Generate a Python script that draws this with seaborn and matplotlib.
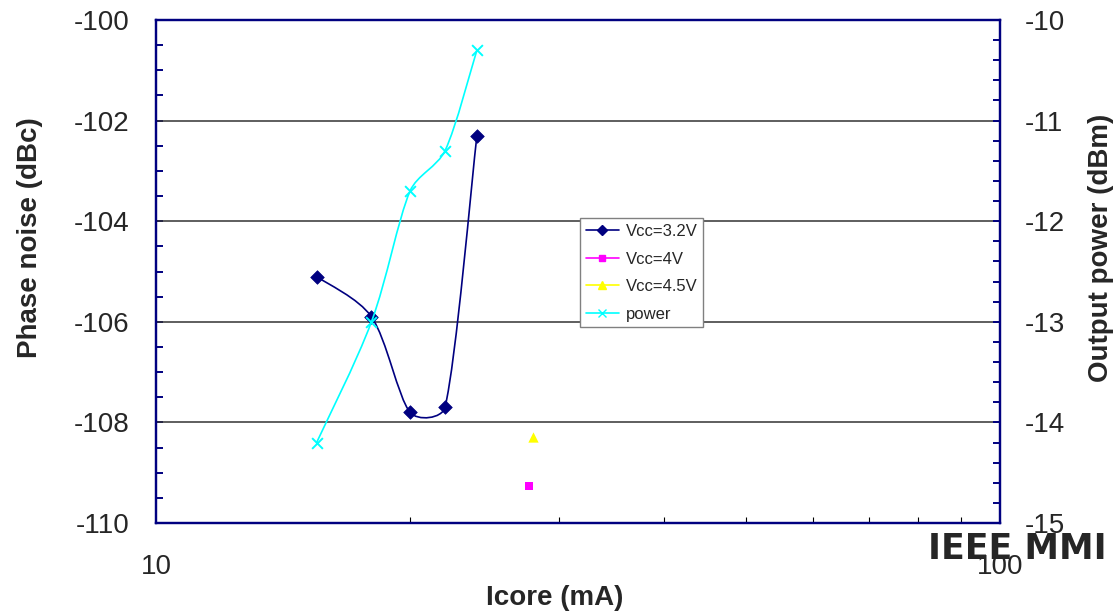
import matplotlib
matplotlib.use("Agg")
import matplotlib.pyplot as plt
import numpy as np
import seaborn as sns
from matplotlib.lines import Line2D
from matplotlib.path import Path
from matplotlib.patches import PathPatch
from matplotlib.ticker import FixedLocator, MultipleLocator, NullFormatter

# data
icore_32 = [15.5, 18.0, 20.0, 22.0, 24.0]
pn_32 = [-105.1, -105.9, -107.8, -107.7, -102.3]
icore_4 = [27.7]
pn_4 = [-109.27]
icore_45 = [28.0]
pn_45 = [-108.3]
icore_pwr = [15.5, 18.0, 20.0, 22.0, 24.0]
pwr = [-14.2, -13.0, -11.7, -11.3, -10.3]

NAVY = "#000080"
MAGENTA = "#FF00FF"
YELLOW = "#FFFF00"
CYAN = "#00FFFF"


def smooth_path(ax, xs, ys, k=1 / 6):
    """Excel-like smoothed line: Catmull-Rom Bezier built in display space."""
    pts = ax.transData.transform(np.column_stack([xs, ys]))
    n = len(pts)
    verts = [pts[0]]
    codes = [Path.MOVETO]
    for i in range(n - 1):
        p1, p2 = pts[i], pts[i + 1]
        p0 = pts[i - 1] if i > 0 else p1
        p3 = pts[i + 2] if i + 2 < n else p2
        lim = np.linalg.norm(p2 - p1) / 3
        t1 = (p2 - p0) * k
        t2 = (p3 - p1) * k
        if np.linalg.norm(t1) > lim:
            t1 = t1 * lim / np.linalg.norm(t1)
        if np.linalg.norm(t2) > lim:
            t2 = t2 * lim / np.linalg.norm(t2)
        verts += [p1 + t1, p2 - t2, p2]
        codes += [Path.CURVE4] * 3
    data = ax.transData.inverted().transform(np.array(verts))
    return Path(data, codes)


sns.set_style("white")
plt.rcParams["font.family"] = ["Liberation Sans", "DejaVu Sans"]

fig = plt.figure(figsize=(11.15, 6.12), dpi=100)
ax = fig.add_axes([156 / 1115, 1 - 523 / 612, 844 / 1115, 503 / 612])
ax.set_xscale("log")
ax.set_xlim(10, 100)
ax.set_ylim(-110, -100)
ax2 = ax.twinx()
ax2.set_ylim(-15, -10)

# gridlines
for g in [-108, -106, -104, -102]:
    ax.axhline(g, color="#333333", lw=1.1, zorder=1)

# smoothed lines
ax.add_patch(PathPatch(smooth_path(ax, icore_32, pn_32), fill=False,
                       edgecolor=NAVY, lw=1.2, zorder=3))
ax2.add_patch(PathPatch(smooth_path(ax2, icore_pwr, pwr), fill=False,
                        edgecolor=CYAN, lw=1.2, zorder=3))

# markers
sns.scatterplot(x=icore_32, y=pn_32, marker="D", color=NAVY, s=48,
                edgecolor=NAVY, linewidth=0.5, ax=ax, zorder=4)
sns.scatterplot(x=icore_4, y=pn_4, marker="s", color=MAGENTA, s=34,
                edgecolor=MAGENTA, linewidth=0, ax=ax, zorder=4)
sns.scatterplot(x=icore_45, y=pn_45, marker="^", color=YELLOW, s=55,
                edgecolor=YELLOW, linewidth=0, ax=ax, zorder=4)
sns.scatterplot(x=icore_pwr, y=pwr, marker="x", color=CYAN, s=60,
                linewidth=1.4, ax=ax2, zorder=4)

# axes styling
for a in (ax, ax2):
    for sp in a.spines.values():
        sp.set_color(NAVY)
        sp.set_linewidth(1.6)

ax.yaxis.set_major_locator(MultipleLocator(2))
ax.yaxis.set_minor_locator(MultipleLocator(0.5))
ax.tick_params(axis="y", which="both", direction="in", length=5, width=1.4,
               color=NAVY, labelsize=20, pad=19, left=True)
ax.set_yticklabels([f"{int(t)}" for t in ax.get_yticks()])

ax.xaxis.set_major_locator(FixedLocator([10, 100]))
ax.xaxis.set_minor_locator(FixedLocator([20, 30, 40, 50, 60, 70, 80, 90]))
ax.xaxis.set_minor_formatter(NullFormatter())
ax.set_xticklabels(["10", "100"])
ax.tick_params(axis="x", which="major", direction="in", length=0,
               labelsize=20, pad=22, bottom=True)
ax.tick_params(axis="x", which="minor", direction="in", length=4, width=0.8,
               color="black", bottom=True)

ax2.yaxis.set_major_locator(MultipleLocator(1))
ax2.yaxis.set_minor_locator(MultipleLocator(0.2))
ax2.tick_params(axis="y", which="both", direction="in", length=5, width=1.4,
                color=NAVY, labelsize=20, pad=18, right=True)
ax2.set_yticklabels([f"{int(t)}" for t in ax2.get_yticks()])

ax.set_xlabel("")
ax.set_ylabel("")
fig.text(555 / 1115, 1 - 598 / 612, "Icore (mA)", ha="center", va="center",
         fontsize=20, fontweight="bold")
fig.text(30 / 1115, 1 - 238 / 612, "Phase noise (dBc)", ha="center", va="center",
         rotation=90, fontsize=20, fontweight="bold")
fig.text(1101 / 1115, 1 - 248 / 612, "Output power (dBm)", ha="center", va="center",
         rotation=90, fontsize=20, fontweight="bold")
fig.text(928 / 1115, 1 - 549 / 612, "IEEE MMI", ha="left", va="center",
         fontsize=25, fontweight="bold", family="DejaVu Sans", zorder=-1)

handles = [
    Line2D([], [], color=NAVY, marker="D", markersize=5, lw=1.2, label="Vcc=3.2V"),
    Line2D([], [], color=MAGENTA, marker="s", markersize=5, lw=1.2, label="Vcc=4V"),
    Line2D([], [], color=YELLOW, marker="^", markersize=6, lw=1.2, label="Vcc=4.5V"),
    Line2D([], [], color=CYAN, marker="x", markersize=6, lw=1.2, label="power"),
]
leg = ax2.legend(handles=handles, loc="upper left", bbox_to_anchor=(0.502, 0.606),
                 borderaxespad=0, fontsize=12, frameon=True, fancybox=False,
                 handlelength=2.0, handletextpad=0.4, borderpad=0.35,
                 labelspacing=0.75)
leg.get_frame().set_edgecolor("#808080")
leg.get_frame().set_linewidth(1.0)
leg.get_frame().set_alpha(1)

fig.savefig("out.png", dpi=100)
